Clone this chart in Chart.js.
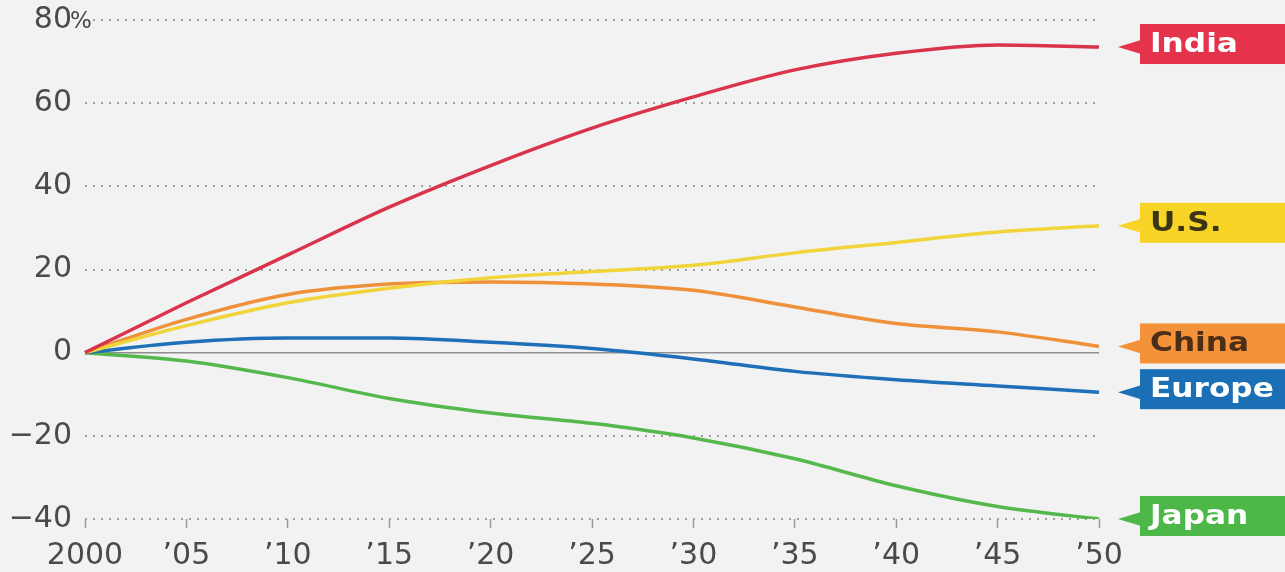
<!DOCTYPE html>
<html>
<head>
<meta charset="utf-8">
<script src="https://cdn.jsdelivr.net/npm/chart.js@4"></script>
<style>
  html, body { margin: 0; padding: 0; background: #f2f2f2; }
  #wrap { width: 1285px; height: 572px; }
</style>
</head>
<body>
<div id="wrap"><canvas id="chart" width="1285" height="572"></canvas></div>
<script>
// Datos: cambio % de población respecto a 2000
const years = ['2000', '’05', '’10', '’15', '’20', '’25', '’30', '’35', '’40', '’45', '’50'];
const india  = [0, 12, 23.5, 35, 45, 54, 61.5, 68, 72, 74, 73.5];
const us     = [0, 6.5, 12, 15.5, 18, 19.5, 21, 24, 26.5, 29, 30.5];
const china  = [0, 8, 14, 16.5, 17, 16.5, 15, 11, 7, 5, 1.5];
const europe = [0, 2.5, 3.5, 3.5, 2.5, 1, -1.5, -4.5, -6.5, -8, -9.5];
const japan  = [0, -2, -6, -11, -14.5, -17, -20.5, -25.5, -32, -37, -40];
const yTicks = [-40, -20, 0, 20, 40, 60, 80];

const series = [
    { name: 'India',  data: india,  line: '#d9344b', box: '#e5334b', text: '#ffffff' },
    { name: 'U.S.',   data: us,     line: '#f0d43a', box: '#f7d425', text: '#3b3515' },
    { name: 'China',  data: china,  line: '#ef903b', box: '#f39238', text: '#4a2e18' },
    { name: 'Europe', data: europe, line: '#1f70b8', box: '#1b6fb5', text: '#ffffff' },
    { name: 'Japan',  data: japan,  line: '#55b84c', box: '#4db848', text: '#ffffff' }
];

// Etiquetas con flecha a la derecha
const calloutPlugin = {
    id: 'callouts',
    afterDatasetsDraw(chart) {
        const ctx = chart.ctx;
        chart.data.datasets.forEach((ds, i) => {
            const meta = chart.getDatasetMeta(i);
            const last = meta.data[meta.data.length - 1];
            const y = last.y;
            const s = series[i];
            const boxX = 1140, boxH = 40, boxY = y - 3 - boxH / 2;
            ctx.save();
            ctx.fillStyle = s.box;
            ctx.fillRect(boxX, boxY, 1285 - boxX, boxH);
            ctx.beginPath();
            ctx.moveTo(1118, y);
            ctx.lineTo(boxX + 1, y - 7);
            ctx.lineTo(boxX + 1, y + 7);
            ctx.closePath();
            ctx.fill();
            ctx.fillStyle = s.text;
            ctx.font = 'bold 26px "DejaVu Sans"';
            ctx.textBaseline = 'middle';
            ctx.translate(1150, boxY + boxH / 2 + 1);
            ctx.scale(1.2, 1);
            ctx.fillText(s.name, 0, 0);
            ctx.restore();
        });
    }
};

// Signo % junto al 80
const percentPlugin = {
    id: 'percent',
    afterDraw(chart) {
        const ctx = chart.ctx;
        const y = chart.scales.y.getPixelForValue(80);
        ctx.save();
        ctx.fillStyle = '#4a4a4a';
        ctx.font = '23px "DejaVu Sans"';
        ctx.textBaseline = 'middle';
        ctx.fillText('%', 70, y + 2);
        ctx.restore();
    }
};

new Chart(document.getElementById('chart').getContext('2d'), {
    type: 'line',
    data: {
        labels: years,
        datasets: series.map(s => ({
            label: s.name,
            data: s.data,
            borderColor: s.line,
            borderWidth: 3.5,
            pointRadius: 0,
            cubicInterpolationMode: 'monotone',
            fill: false
        }))
    },
    options: {
        responsive: false,
        animation: false,
        layout: { padding: { top: 20, right: 186, left: 0, bottom: 0 } },
        plugins: { legend: { display: false }, tooltip: { enabled: false } },
        scales: {
            x: {
                offset: false,
                border: { display: false },
                grid: { drawOnChartArea: false, drawTicks: true, tickLength: 9, tickColor: '#9a9a9a', tickWidth: 1.5 },
                ticks: { color: '#4a4a4a', font: { family: 'DejaVu Sans', size: 30 }, padding: 10, maxRotation: 0, autoSkip: false },
                afterFit(scale) { scale.height = 53; }
            },
            y: {
                min: -40,
                max: 80,
                afterBuildTicks(scale) { scale.ticks = yTicks.map(v => ({ value: v })); },
                border: {
                    display: false,
                    // líneas punteadas, salvo el cero
                    dash: ctx => ctx.tick && ctx.tick.value === 0 ? [] : [2, 6]
                },
                grid: {
                    drawTicks: false,
                    color: ctx => ctx.tick && ctx.tick.value === 0 ? '#8f8f8f' : '#a0a0a0',
                    lineWidth: ctx => ctx.tick && ctx.tick.value === 0 ? 1.5 : 2
                },
                ticks: {
                    color: '#4a4a4a',
                    font: { family: 'DejaVu Sans', size: 30 },
                    padding: 13,
                    callback: v => v < 0 ? '−' + Math.abs(v) : String(v)
                },
                afterFit(scale) {
                    scale.width = 85;
                    scale.paddingTop = 0;
                    scale.paddingBottom = 0;
                }
            }
        }
    },
    plugins: [calloutPlugin, percentPlugin]
});
</script>
</body>
</html>
